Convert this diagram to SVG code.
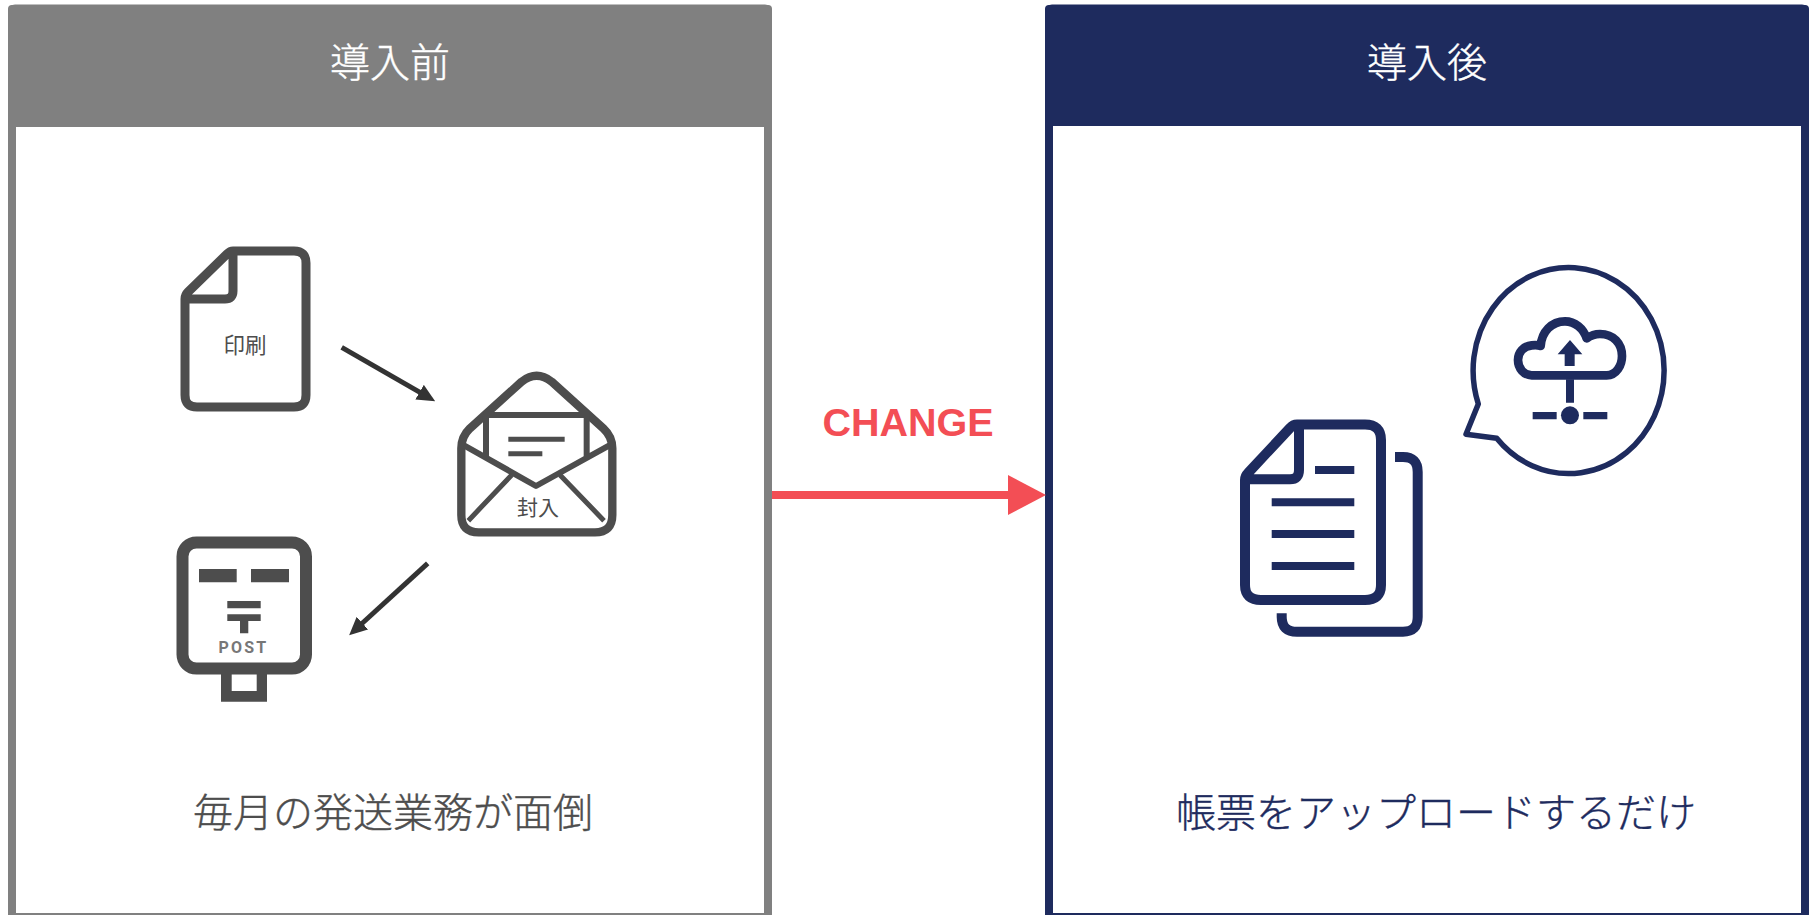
<svg xmlns="http://www.w3.org/2000/svg" width="1812" height="915" viewBox="0 0 1812 915">
<defs>
<style>
.jp{font-family:"Noto Sans CJK JP","Noto Sans CJK SC",sans-serif;font-weight:300;text-anchor:middle;stroke-width:.4}
.sm{font-weight:400;stroke-width:0}
.ic{fill:none;stroke:#4d4d4d;stroke-linejoin:round}
.nv{fill:none;stroke:#1e2b5e;stroke-linejoin:round}
.gf{fill:#4d4d4d}
.nf{fill:#1e2b5e}
</style>
<marker id="ah1" markerUnits="userSpaceOnUse" viewBox="0 0 18 18" refX="8" refY="9" markerWidth="18" markerHeight="18" orient="auto"><path d="M0 0.5L18 9L0 17.5Z" fill="#333"/></marker>
</defs>
<rect width="1812" height="915" fill="#fff"/>
<g id="panel-before">
<rect x="12" y="8.5" width="756" height="908.5" rx="3" fill="#fff" stroke="#808080" stroke-width="8"/>
<path d="M8 9Q8 5 12 5H768Q772 5 772 9V127H8Z" fill="#808080"/>
<text class="jp" x="390" y="77" font-size="40" fill="#fff" stroke="#fff">導入前</text>
<text class="jp" x="393" y="827" font-size="40" fill="#4d4d4d" stroke="#4d4d4d">毎月の発送業務が面倒</text>
</g>
<g id="panel-after">
<rect x="1049" y="8.5" width="756" height="908.5" rx="3" fill="#fff" stroke="#1e2b5e" stroke-width="8"/>
<path d="M1045 9Q1045 5 1049 5H1805Q1809 5 1809 9V126H1045Z" fill="#1e2b5e"/>
<text class="jp" x="1427" y="77" font-size="40" fill="#fff" stroke="#fff">導入後</text>
<text class="jp" x="1436" y="827" font-size="40" fill="#1e2b5e" stroke="#1e2b5e">帳票をアップロードするだけ</text>
</g>
<g id="node-print">
<path class="ic" stroke-width="9" d="M233 251H294Q306 251 306 263V395Q306 407 294 407H197Q185 407 185 395V299Q185 295 188 292L227 254Q230 251 233 251ZM233 251V291Q233 299 225 299H185"/>
<text class="jp sm" x="245" y="353" font-size="21.5" fill="#4d4d4d">印刷</text>
</g>
<g id="node-envelope">
<g transform="translate(440 360) scale(.33333)">
<path class="ic" stroke-width="25" d="M90 205L245 65Q290 30 335 65L490 205Q517 230 517 265V465Q517 517 465 517H116Q64 517 64 465V265Q64 230 90 205Z"/>
<path class="ic" stroke-width="18" d="M72 256L288 378L508 256M132 165H448M138 165V290M440 165V290"/>
<path class="ic" stroke-width="15" d="M85 482L215 345M492 482L360 345"/>
<path class="gf" d="M205 230H374V245H205ZM205 274H307V289H205Z"/>
</g>
<text class="jp sm" x="538" y="515" font-size="21" fill="#4d4d4d">封入</text>
</g>
<g id="node-post">
<rect class="ic" x="182.5" y="542.5" width="123.5" height="126" rx="14" stroke-width="12"/>
<path class="gf" fill-rule="evenodd" d="M199 569H236.7V582.3H199ZM251 569H289V582.3H251ZM227.3 601H260.7V608.3H227.3ZM227.3 614.3H260.7V621H248.3V633.3H240V621H227.3ZM221 674H267V701.7H221ZM231.7 674V691H256.7V674Z"/>
<text x="243.5" y="653.3" font-family="Roboto,'Liberation Sans',sans-serif" font-weight="700" font-size="16" letter-spacing="2.2" text-anchor="middle" fill="#777">POST</text>
</g>
<g id="node-docs">
<path class="nv" stroke-width="10" d="M1297 424.5H1365Q1381 424.5 1381 440V585Q1381 600 1365 600H1261Q1245 600 1245 585V480Q1245 476 1248 473L1290 428Q1293 424.5 1297 424.5ZM1299 424.5V470Q1299 479.3 1290 479.3H1245"/>
<path class="nf" d="M1315 466H1354.3V474H1315ZM1271.7 498.3H1354.3V506.3H1271.7ZM1271.7 530H1354.3V538H1271.7ZM1271.7 562H1354.3V570H1271.7Z"/>
<path class="nv" stroke-width="10" d="M1395 457H1403Q1417.7 457 1417.7 472V617Q1417.7 631.7 1403 631.7H1297Q1281.7 631.7 1281.7 617V613.3"/>
</g>
<g id="node-cloud">
<path class="nv" stroke-width="5.5" d="M1478.3 404L1466 434.3L1496.7 438.3A95.5 103 0 1 0 1478.3 404Z"/>
<g transform="translate(1450 250) scale(.33333)">
<path class="nv" stroke-width="26" d="M245 376H470C500 376 516 345 516 318C516 280 490 252 450 252C435 252 420 258 410 265C400 235 375 214 345 214C305 214 275 245 272 288C265 285 255 285 245 286C220 288 204 308 204 330C204 355 222 376 245 376Z"/>
<path class="nf" d="M360 270L397 313H374V348H344V313H323ZM348 388H372V458H348ZM248 486H320V508H248ZM400 486H472V508H400Z"/>
<circle class="nf" cx="360" cy="496" r="27"/>
</g>
</g>
<g id="connectors">
<path d="M341.7 347.3L426.5 396.2" stroke="#333" stroke-width="5" fill="none" marker-end="url(#ah1)"/>
<path d="M427.7 563.3L356.5 628.5" stroke="#333" stroke-width="5" fill="none" marker-end="url(#ah1)"/>
<path d="M772 495H1010" stroke="#f34e55" stroke-width="8" fill="none"/>
<path d="M1008 475L1046 495L1008 515Z" fill="#f34e55"/>
</g>
<text id="label-change" x="908" y="436" font-family="'Liberation Sans',Arial,sans-serif" font-weight="700" font-size="39.5" text-anchor="middle" fill="#f34e55">CHANGE</text>
</svg>
